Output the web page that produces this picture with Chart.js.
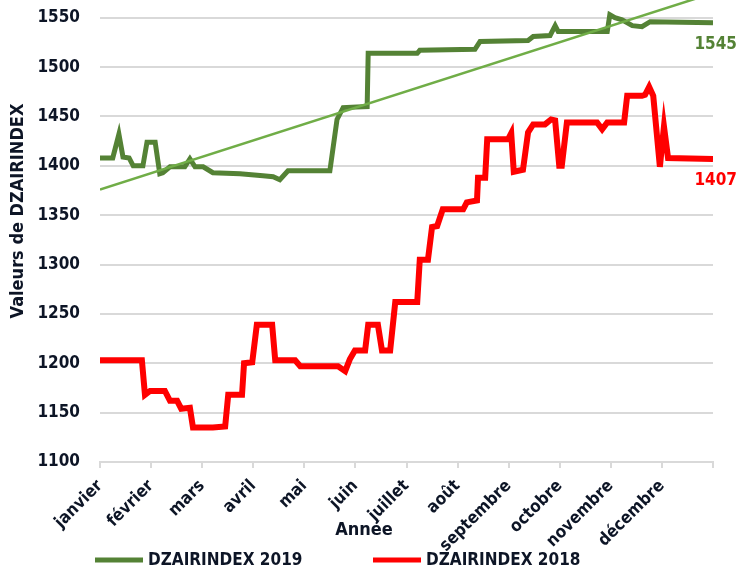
<!DOCTYPE html>
<html lang="fr">
<head>
  <meta charset="UTF-8">
  <title>DZAIRINDEX 2018 / 2019</title>
  <script src="https://cdn.jsdelivr.net/npm/chart.js"></script>
  <style>
    body { margin: 0; background: #fff; }
    #wrap { width: 738px; height: 574px; }
  </style>
</head>
<body>
  <div id="wrap"><canvas id="dzChart" width="738" height="574"></canvas></div>

  <script>
    // mois (axe x : 0 = début janvier, 12 = fin décembre)
    const months = ['janvier', 'février', 'mars', 'avril', 'mai', 'juin', 'juillet', 'août',
                    'septembre', 'octobre', 'novembre', 'décembre'];

    // DZAIRINDEX 2019
    const x2019 = [0, 0.25, 0.37, 0.45, 0.57, 0.65, 0.84, 0.92, 1.08, 1.17, 1.23, 1.37, 1.66, 1.76, 1.86,
                   2.02, 2.21, 2.74, 3.19, 3.39, 3.52, 3.68, 4.50, 4.64, 4.76, 5.23, 5.25, 6.21, 6.26, 7.34,
                   7.44, 8.38, 8.48, 8.81, 8.91, 8.97, 9.93, 9.98, 10.08, 10.22, 10.42, 10.61, 10.77, 12.0];
    const y2019 = [1408, 1408, 1432, 1409, 1408, 1400, 1400, 1424, 1424, 1392, 1393, 1399, 1399, 1407, 1399,
                   1399, 1393, 1392, 1390, 1389, 1386, 1395, 1395, 1447, 1459, 1460, 1514, 1514, 1517, 1518,
                   1526, 1527, 1531, 1532, 1542, 1536, 1536, 1553, 1550, 1548, 1542, 1541, 1546, 1545];

    // DZAIRINDEX 2018
    const x2018 = [0, 0.82, 0.88, 0.98, 1.27, 1.37, 1.51, 1.59, 1.76, 1.82, 2.21, 2.45, 2.51, 2.78, 2.82,
                   2.98, 3.07, 3.37, 3.43, 3.82, 3.92, 4.66, 4.80, 4.89, 4.99, 5.19, 5.25, 5.44, 5.52, 5.68,
                   5.78, 6.21, 6.26, 6.42, 6.50, 6.60, 6.71, 7.11, 7.18, 7.38, 7.40, 7.54, 7.58, 7.99, 8.05,
                   8.10, 8.28, 8.38, 8.48, 8.71, 8.83, 8.91, 8.99, 9.04, 9.14, 9.73, 9.83, 9.93, 10.26, 10.32,
                   10.61, 10.67, 10.75, 10.83, 10.96, 11.04, 11.12, 12.0];
    const y2018 = [1203, 1203, 1168, 1172, 1172, 1162, 1162, 1154, 1155, 1135, 1135, 1136, 1168, 1168, 1200,
                   1201, 1239, 1239, 1203, 1203, 1197, 1197, 1192, 1204, 1213, 1213, 1239, 1239, 1213, 1213,
                   1262, 1262, 1305, 1305, 1338, 1339, 1356, 1356, 1363, 1365, 1388, 1388, 1427, 1427, 1433,
                   1394, 1396, 1434, 1442, 1442, 1447, 1446, 1400, 1400, 1444, 1444, 1437, 1444, 1444, 1471,
                   1471, 1472, 1480, 1471, 1399, 1440, 1408, 1407];

    // tendance linéaire 2019
    const xTrend = [0, 12];
    const yTrend = [1376, 1575];

    const yTicks = [1100, 1150, 1200, 1250, 1300, 1350, 1400, 1450, 1500, 1550];

    const FONT = "'DejaVu Sans Condensed', 'Liberation Sans', sans-serif";
    const TEXT = '#0d1526';
    const GRID = '#d9d9d9';

    const toPoints = (xs, ys) => xs.map((x, i) => ({ x, y: ys[i] }));

    // étiquettes, titres d'axes et légende
    const annotations = {
      id: 'annotations',
      afterDraw(chart) {
        const { ctx, scales: { x, y } } = chart;
        const series = chart.data.datasets.filter(ds => !ds.trend);
        ctx.save();
        ctx.textBaseline = 'middle';

        // valeur finale de chaque série
        ctx.font = `bold 17px ${FONT}`;
        ctx.textAlign = 'right';
        series.forEach(ds => {
          const last = ds.data[ds.data.length - 1];
          ctx.fillStyle = ds.labelColor;
          ctx.fillText(String(last.y), x.getPixelForValue(last.x) + 24, y.getPixelForValue(last.y) + 22);
        });

        // titre axe x
        ctx.fillStyle = TEXT;
        ctx.textAlign = 'center';
        ctx.font = `bold 18px ${FONT}`;
        ctx.fillText('Année', 364, 530);

        // titre axe y
        ctx.save();
        ctx.translate(18, 211);
        ctx.rotate(-Math.PI / 2);
        ctx.font = `bold 18px ${FONT}`;
        ctx.fillText('Valeurs de DZAIRINDEX', 0, 0);
        ctx.restore();

        // légende
        const legendX = [95, 373];
        ctx.font = `bold 17px ${FONT}`;
        ctx.textAlign = 'left';
        series.forEach((ds, i) => {
          ctx.strokeStyle = ds.borderColor;
          ctx.lineWidth = 5;
          ctx.beginPath();
          ctx.moveTo(legendX[i], 560);
          ctx.lineTo(legendX[i] + 48, 560);
          ctx.stroke();
          ctx.fillStyle = TEXT;
          ctx.fillText(ds.label, legendX[i] + 53, 561);
        });
        ctx.restore();
      }
    };

    new Chart(document.getElementById('dzChart'), {
      type: 'line',
      data: {
        datasets: [
          {
            label: 'DZAIRINDEX 2019',
            data: toPoints(x2019, y2019),
            borderColor: '#548235',
            labelColor: '#548235',
            borderWidth: 5,
            pointRadius: 0,
            tension: 0,
            order: 1
          },
          {
            label: 'DZAIRINDEX 2018',
            data: toPoints(x2018, y2018),
            borderColor: '#ff0000',
            labelColor: '#ff0000',
            borderWidth: 6,
            pointRadius: 0,
            tension: 0,
            order: 2
          },
          {
            label: 'Tendance 2019',
            trend: true,
            data: toPoints(xTrend, yTrend),
            borderColor: '#70ad47',
            borderWidth: 2.5,
            pointRadius: 0,
            order: 0
          }
        ]
      },
      options: {
        responsive: false,
        animation: false,
        layout: { padding: { left: 0, right: 25, top: 0, bottom: 0 } },
        plugins: { legend: { display: false }, tooltip: { enabled: false } },
        scales: {
          x: {
            type: 'linear',
            min: 0,
            max: 12,
            afterFit: s => { s.height = 112; s.paddingLeft = 0; s.paddingRight = 0; },
            afterBuildTicks: s => { s.ticks = months.concat(['']).map((m, i) => ({ value: i })); },
            grid: { drawOnChartArea: false, drawTicks: true, tickLength: 6, color: GRID, lineWidth: 2 },
            border: { color: GRID, width: 2 },
            ticks: {
              autoSkip: false,
              maxRotation: 45,
              minRotation: 45,
              padding: 8,
              color: TEXT,
              font: { family: FONT, size: 17, weight: 'bold' },
              callback: v => months[v] || ''
            }
          },
          y: {
            min: 1100,
            max: 1568,
            afterFit: s => { s.width = 100; s.paddingTop = 0; s.paddingBottom = 0; },
            afterBuildTicks: s => { s.ticks = yTicks.map(v => ({ value: v })); },
            grid: { color: GRID, lineWidth: 2, drawTicks: false },
            border: { display: false },
            ticks: {
              padding: 20,
              color: TEXT,
              font: { family: FONT, size: 17, weight: 'bold' },
              callback: v => String(v)
            }
          }
        }
      },
      plugins: [annotations]
    });
  </script>
</body>
</html>
